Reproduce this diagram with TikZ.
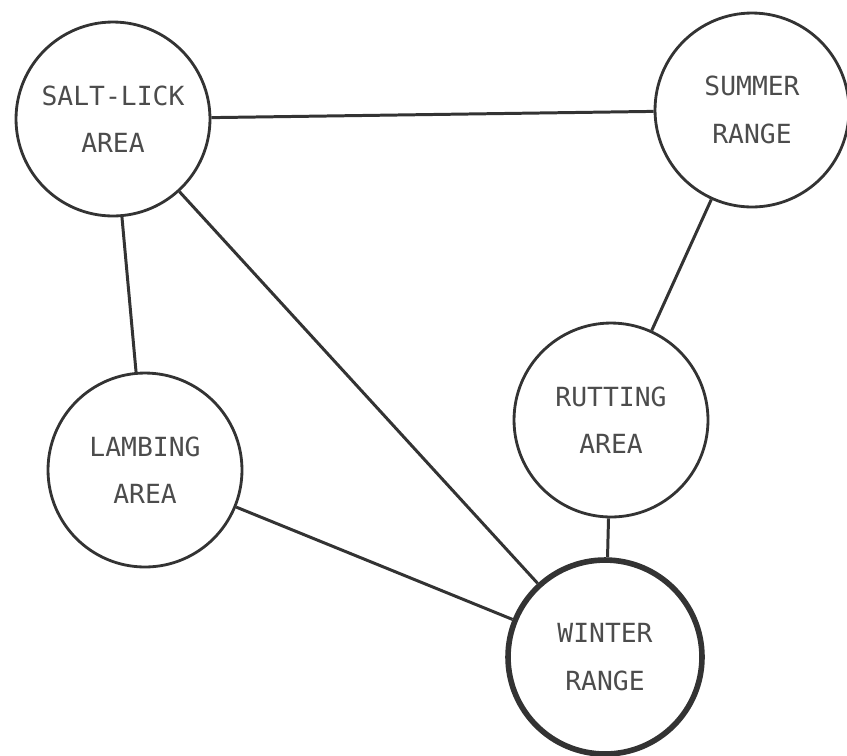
\documentclass[tikz,border=0pt]{standalone}
\usepackage{fontspec}
\setmonofont{DejaVu Sans Mono}
\usepackage{tikz}
\usetikzlibrary{positioning}

\begin{document}
\begin{tikzpicture}[
    x=0.02cm, y=-0.02cm, line width=1.6pt,
    every node/.style={font=\ttfamily\fontsize{15}{27}\selectfont, text=black!70},
    area/.style={circle, draw=black!80, minimum size=3.88cm, inner sep=0pt, align=center},
    link/.style={draw=black!80, line width=1.7pt}
]
\useasboundingbox (0,0) rectangle (847,755);

% Ranges and areas
\node[area] (salt)    at (113,119) {SALT-LICK\\AREA};
\node[area] (summer)  at (752,110) {SUMMER\\RANGE};
\node[area] (lambing) at (145,470) {LAMBING\\AREA};
\node[area] (rutting) at (611,420) {RUTTING\\AREA};
\node[area, line width=3.2pt] (winter) at (605,657) {WINTER\\RANGE};

% Links
\draw[link] (salt) -- (summer);
\draw[link] (salt) -- (lambing);
\draw[link] (salt) -- (winter);
\draw[link] (summer) -- (rutting);
\draw[link] (rutting) -- (winter);
\draw[link] (lambing) -- (winter);
\end{tikzpicture}
\end{document}
